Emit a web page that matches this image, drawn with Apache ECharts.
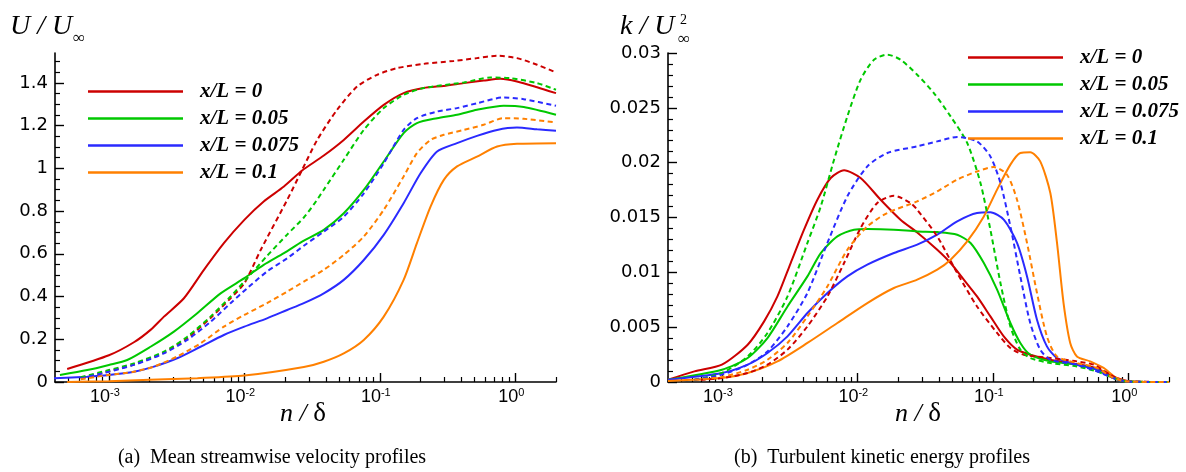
<!DOCTYPE html>
<html><head><meta charset="utf-8">
<script src="https://cdn.jsdelivr.net/npm/echarts@6/dist/echarts.min.js"></script>
<style>html,body{margin:0;padding:0;background:#fff}#c{width:1186px;height:472px}</style>
</head><body><div id="c"></div>
<script>
// ---------- labels / ticks ----------
const seriesNames = ['x/L = 0', 'x/L = 0.05', 'x/L = 0.075', 'x/L = 0.1'];
const colors = ['#cc0000', '#00c800', '#2a2aff', '#ff8000'];
const xDecadeTicks = [-3, -2, -1, 0];          // log10(n/delta) of labelled decades
const uTicks = [0, 0.2, 0.4, 0.6, 0.8, 1, 1.2, 1.4];
const kTicks = [0, 0.005, 0.01, 0.015, 0.02, 0.025, 0.03];

// ---------- (a) U/U_inf  : [n/delta, value] ----------
const U_x0 = [[4.92e-4,0.061],[1e-3,0.125],[1.53e-3,0.186],[2.03e-3,0.244],[2.55e-3,0.306],[3.58e-3,0.392],[5.03e-3,0.525],[7.06e-3,0.65],[0.01,0.759],[0.0139,0.845],[0.0196,0.915],[0.0267,0.99],[0.0386,1.06],[0.0542,1.133],[0.0762,1.219],[0.107,1.297],[0.150,1.352],[0.211,1.376],[0.297,1.386],[0.417,1.399],[0.586,1.411],[0.778,1.419],[1.03,1.407],[1.45,1.38],[2,1.352]];
const U_x0_d = [[6.2e-4,0.018],[1e-3,0.05],[1.53e-3,0.082],[2.55e-3,0.138],[3.79e-3,0.205],[5.63e-3,0.3],[7.91e-3,0.392],[0.01,0.462],[0.0132,0.618],[0.0207,0.852],[0.0267,0.993],[0.0345,1.133],[0.0484,1.274],[0.068,1.383],[0.0955,1.438],[0.134,1.469],[0.211,1.489],[0.352,1.503],[0.522,1.516],[0.735,1.527],[1.03,1.516],[1.45,1.485],[2,1.449]];
const U_x05 = [[4.35e-4,0.033],[6.92e-4,0.056],[1e-3,0.08],[1.365e-3,0.103],[2.03e-3,0.165],[3.02e-3,0.236],[4.49e-3,0.322],[6.68e-3,0.415],[0.01,0.486],[0.0139,0.548],[0.0196,0.603],[0.0267,0.657],[0.0386,0.712],[0.0542,0.79],[0.0762,0.899],[0.107,1.032],[0.150,1.165],[0.188,1.212],[0.265,1.235],[0.372,1.251],[0.522,1.274],[0.822,1.293],[1.156,1.287],[2,1.251]];
const U_x05_d = [[6.2e-4,0.022],[1e-3,0.056],[1.53e-3,0.087],[2.55e-3,0.142],[3.79e-3,0.212],[5.63e-3,0.306],[7.91e-3,0.4],[0.0105,0.486],[0.0147,0.59],[0.0207,0.69],[0.0275,0.77],[0.0325,0.83],[0.0386,0.9],[0.0542,1.04],[0.0762,1.18],[0.107,1.282],[0.150,1.344],[0.211,1.376],[0.417,1.402],[0.656,1.425],[0.923,1.422],[1.45,1.399],[2,1.368]];
const U_x075 = [[3.93e-4,0.017],[6.92e-4,0.025],[1e-3,0.033],[1.53e-3,0.048],[2.15e-3,0.072],[3.19e-3,0.111],[4.75e-3,0.165],[7.06e-3,0.22],[0.01,0.259],[0.0147,0.298],[0.0207,0.337],[0.0275,0.369],[0.0386,0.415],[0.0542,0.478],[0.0762,0.571],[0.107,0.689],[0.150,0.837],[0.2,0.977],[0.265,1.079],[0.372,1.118],[0.522,1.152],[0.735,1.18],[1.03,1.191],[1.45,1.183],[2,1.176]];
const U_x075_d = [[6.2e-4,0.017],[1e-3,0.048],[1.53e-3,0.08],[2.55e-3,0.134],[3.79e-3,0.197],[5.63e-3,0.282],[7.91e-3,0.369],[0.0105,0.439],[0.0147,0.517],[0.0207,0.579],[0.0275,0.638],[0.0386,0.704],[0.0542,0.774],[0.0762,0.883],[0.107,1.024],[0.150,1.18],[0.188,1.235],[0.265,1.266],[0.372,1.282],[0.522,1.305],[0.822,1.332],[1.156,1.324],[2,1.293]];
const U_x1 = [[4.92e-4,0.0],[1e-3,0.004],[2e-3,0.01],[4.5e-3,0.018],[0.01,0.03],[0.0275,0.07],[0.0386,0.095],[0.0542,0.134],[0.0762,0.197],[0.107,0.306],[0.150,0.478],[0.188,0.65],[0.237,0.821],[0.297,0.946],[0.372,1.009],[0.522,1.055],[0.735,1.102],[1.03,1.115],[2,1.118]];
const U_x1_d = [[6.2e-4,0.013],[1e-3,0.033],[1.53e-3,0.048],[2.15e-3,0.072],[3.19e-3,0.119],[4.75e-3,0.181],[7.06e-3,0.259],[0.01,0.314],[0.0147,0.369],[0.0207,0.423],[0.0275,0.47],[0.0386,0.525],[0.0542,0.595],[0.0762,0.681],[0.107,0.806],[0.150,0.962],[0.188,1.071],[0.237,1.133],[0.297,1.157],[0.417,1.18],[0.586,1.204],[0.822,1.235],[1.156,1.232],[2,1.215]];

// ---------- (b) k/U_inf^2 : [n/delta, value] ----------
const K_x0 = [[4e-4,0.0002],[6.27e-4,0.00097],[1e-3,0.00158],[1.55e-3,0.0034],[2.05e-3,0.00553],[2.57e-3,0.0078],[3.22e-3,0.01085],[4.04e-3,0.01389],[5.07e-3,0.01662],[6.36e-3,0.0186],[7.98e-3,0.0193],[0.01057,0.0186],[0.01485,0.01662],[0.02083,0.0148],[0.02767,0.01364],[0.0389,0.01206],[0.0488,0.01085],[0.0611,0.00933],[0.0765,0.0078],[0.096,0.00598],[0.1205,0.00416],[0.151,0.00295],[0.189,0.00249],[0.266,0.00203],[0.373,0.00173],[0.524,0.00142],[0.658,0.00097],[0.824,0.00036],[1.033,0.00005],[2,0]];
const K_x0_d = [[7e-4,0.0002],[1e-3,0.00036],[1.55e-3,0.00082],[2.17e-3,0.00158],[3.05e-3,0.00295],[4.28e-3,0.00507],[6.01e-3,0.0078],[7.98e-3,0.01085],[0.01057,0.01404],[0.01403,0.01632],[0.01862,0.01699],[0.0247,0.01632],[0.02767,0.01571],[0.0389,0.01328],[0.0546,0.00994],[0.0765,0.00689],[0.1076,0.00447],[0.1349,0.0031],[0.169,0.00249],[0.266,0.00219],[0.418,0.00188],[0.555,0.00158],[0.736,0.00067],[0.923,0.0001],[2,0]];
const K_x05 = [[4e-4,0.0002],[1e-3,0.00112],[1.55e-3,0.00219],[2.17e-3,0.00401],[3.05e-3,0.00689],[4.28e-3,0.00963],[5.37e-3,0.01176],[7.12e-3,0.01328],[9.45e-3,0.01389],[0.01185,0.01395],[0.01862,0.01389],[0.02767,0.01373],[0.0389,0.01367],[0.0546,0.01343],[0.0685,0.01268],[0.0859,0.01085],[0.1076,0.00842],[0.1349,0.00538],[0.1597,0.00356],[0.189,0.00249],[0.266,0.00188],[0.418,0.00158],[0.587,0.00112],[0.779,0.00036],[0.977,0.00005],[2,0]];
const K_x05_d = [[6.27e-4,0.0002],[1e-3,0.00082],[1.55e-3,0.00233],[2.17e-3,0.00447],[3.05e-3,0.0078],[4.28e-3,0.01268],[5.37e-3,0.01601],[6.73e-3,0.02027],[8.44e-3,0.02422],[0.01057,0.02757],[0.01327,0.02939],[0.01663,0.02985],[0.02083,0.02939],[0.02767,0.02802],[0.03673,0.02635],[0.0488,0.02422],[0.0647,0.0218],[0.0811,0.01815],[0.096,0.01389],[0.1139,0.00903],[0.1349,0.00507],[0.1597,0.00295],[0.189,0.00219],[0.266,0.00173],[0.418,0.00142],[0.587,0.00097],[0.779,0.00036],[0.977,0.00005],[2,0]];
const K_x075 = [[4e-4,0.0002],[1e-3,0.00082],[1.55e-3,0.00158],[2.17e-3,0.00264],[3.05e-3,0.00416],[4.28e-3,0.00629],[6.01e-3,0.00812],[8.44e-3,0.00963],[0.01185,0.0107],[0.01862,0.01176],[0.02767,0.01252],[0.0389,0.01343],[0.0546,0.01465],[0.0765,0.01541],[0.096,0.01547],[0.1205,0.0148],[0.151,0.01268],[0.179,0.00963],[0.212,0.00568],[0.251,0.00325],[0.298,0.00219],[0.418,0.00158],[0.587,0.00112],[0.779,0.00036],[0.977,0.00005],[2,0]];
const K_x075_d = [[6.27e-4,0.0002],[1e-3,0.00067],[1.55e-3,0.00158],[2.17e-3,0.00279],[3.05e-3,0.00507],[4.28e-3,0.00812],[6.01e-3,0.01268],[8.44e-3,0.01693],[0.01185,0.01966],[0.01663,0.02088],[0.02767,0.02149],[0.0389,0.02194],[0.0546,0.02234],[0.0765,0.02194],[0.096,0.02057],[0.1139,0.01815],[0.1349,0.01419],[0.1597,0.00963],[0.189,0.00538],[0.224,0.00295],[0.266,0.00203],[0.418,0.00158],[0.587,0.00097],[0.779,0.00036],[0.977,0.00005],[2,0]];
const K_x1 = [[4e-4,0.0001],[1e-3,0.00036],[1.55e-3,0.00082],[2.57e-3,0.00188],[4.28e-3,0.00356],[7.12e-3,0.00538],[0.01185,0.0072],[0.01862,0.00857],[0.02767,0.00933],[0.0389,0.01024],[0.0488,0.01115],[0.0647,0.01282],[0.0859,0.0151],[0.1076,0.01754],[0.1349,0.01982],[0.1597,0.02088],[0.189,0.02094],[0.224,0.02012],[0.266,0.01723],[0.298,0.01268],[0.333,0.0072],[0.373,0.00356],[0.418,0.00233],[0.524,0.00188],[0.658,0.00128],[0.824,0.00036],[1.033,0.00005],[2,0]];
const K_x1_d = [[6.27e-4,0.0002],[1e-3,0.00046],[1.55e-3,0.00112],[2.17e-3,0.00203],[3.05e-3,0.00356],[4.28e-3,0.00598],[6.01e-3,0.00872],[8.44e-3,0.01206],[0.01185,0.01419],[0.01663,0.01541],[0.02767,0.01647],[0.0389,0.01738],[0.0546,0.01845],[0.0765,0.0192],[0.1017,0.0196],[0.1274,0.0189],[0.151,0.01662],[0.179,0.01268],[0.212,0.00812],[0.251,0.00416],[0.298,0.00233],[0.418,0.00173],[0.587,0.00128],[0.779,0.00036],[0.977,0.00005],[2,0]];

const uSolid = [U_x0, U_x05, U_x075, U_x1];
const uDashed = [U_x0_d, U_x05_d, U_x075_d, U_x1_d];
const kSolid = [K_x0, K_x05, K_x075, K_x1];
const kDashed = [K_x0_d, K_x05_d, K_x075_d, K_x1_d];

// ---------- chart ----------
const chart = echarts.init(document.getElementById('c'));
const toLog = arr => arr.map(p => [Math.log10(p[0]), p[1]]);
const xMin = Math.log10(4e-4), xMax = Math.log10(2);
const minorX = [];
for (let d = -4; d <= 0; d++) for (let m = 2; m <= 9; m++) {
  const v = d + Math.log10(m);
  if (v > xMin + 1e-6 && v <= xMax + 1e-6) minorX.push(v);
}
const minorU = [];
for (let k = 1; k * 0.05 <= 1.54; k++) if (k % 4) minorU.push(+(k * 0.05).toFixed(2));
const minorK = [];
for (let k = 1; k <= 30; k++) if (k % 5) minorK.push(+(k * 0.001).toFixed(3));

const black = '#000';
const serif = '"Liberation Serif", "Times New Roman", serif';

function xAxesFor(g) {
  return [
    { type: 'value', gridIndex: g, position: 'bottom', min: xMin, max: xMax,
      axisLine: { onZero: false, lineStyle: { color: black, width: 1.6 } },
      axisTick: { customValues: xDecadeTicks, inside: true, length: 9, lineStyle: { color: black, width: 1.4 } },
      axisLabel: { customValues: xDecadeTicks, margin: 5, padding: [0, 8, 0, 0],
        formatter: v => '{b|10}{s|' + v + '}',
        rich: { b: { fontFamily: 'Liberation Sans', fontSize: 18, color: black, lineHeight: 20 },
                s: { fontFamily: 'Liberation Sans', fontSize: 11, color: black, verticalAlign: 'top', lineHeight: 12 } } },
      splitLine: { show: false } },
    { type: 'value', gridIndex: g, position: 'bottom', min: xMin, max: xMax,
      axisLine: { show: false, onZero: false },
      axisTick: { customValues: minorX, inside: true, length: 5, lineStyle: { color: black, width: 1.2 } },
      axisLabel: { show: false }, splitLine: { show: false } }
  ];
}
function yAxesFor(g, max, ticks, minor) {
  return [
    { type: 'value', gridIndex: g, position: 'left', min: 0, max: max,
      axisLine: { show: true, onZero: false, lineStyle: { color: black, width: 1.6 } },
      axisTick: { show: true, customValues: ticks, inside: true, length: 9, lineStyle: { color: black, width: 1.4 } },
      axisLabel: { customValues: ticks, margin: 7, fontFamily: 'DejaVu Sans', fontSize: 18, color: black },
      splitLine: { show: false } },
    { type: 'value', gridIndex: g, position: 'left', min: 0, max: max,
      axisLine: { show: false, onZero: false },
      axisTick: { show: true, customValues: minor, inside: true, length: 5, lineStyle: { color: black, width: 1.2 } },
      axisLabel: { show: false }, splitLine: { show: false } }
  ];
}

const series = [];
function addPanel(solid, dashed, xi, yi) {
  solid.forEach((d, i) => series.push({
    type: 'line', name: seriesNames[i], xAxisIndex: xi, yAxisIndex: yi, data: toLog(d),
    showSymbol: false, smooth: 0.25, z: 2,
    itemStyle: { color: colors[i] }, lineStyle: { color: colors[i], width: 2 } }));
  dashed.forEach((d, i) => series.push({
    type: 'line', name: seriesNames[i] + ' (dashed)', xAxisIndex: xi, yAxisIndex: yi, data: toLog(d),
    showSymbol: false, smooth: 0.25, z: 3,
    itemStyle: { color: colors[i] }, lineStyle: { color: colors[i], width: 2, type: [5, 3.5] } }));
}
addPanel(uSolid, uDashed, 0, 0);
addPanel(kSolid, kDashed, 2, 2);

const legendBase = {
  data: seriesNames, orient: 'vertical', icon: 'rect', itemWidth: 95, itemHeight: 2.5,
  itemGap: 6, padding: 0, selectedMode: false,
  textStyle: { fontFamily: serif, fontStyle: 'italic', fontWeight: 'bold', fontSize: 21, color: black,
               lineHeight: 20, padding: [0, 0, 0, 12] }
};

const txt = (x, y, text, font, extra) => ({ type: 'text', x, y, silent: true,
  style: Object.assign({ text, font, fill: black, verticalAlign: 'middle' }, extra || {}) });
const xName = (x, y) => ({ type: 'text', x, y, silent: true,
  style: { text: '{i|n /} {d|δ}', fill: black, align: 'center', verticalAlign: 'middle',
    font: '26px ' + serif,
    rich: { i: { fontFamily: serif, fontStyle: 'italic', fontSize: 26, fill: black },
            d: { fontFamily: serif, fontSize: 27, fill: black } } } });

chart.setOption({
  animation: false,
  backgroundColor: '#fff',
  grid: [
    { left: 55, right: 630, top: 53, bottom: 90 },
    { left: 668, right: 17, top: 53, bottom: 90 }
  ],
  xAxis: [...xAxesFor(0), ...xAxesFor(1)],
  yAxis: [...yAxesFor(0, 1.54, uTicks, minorU), ...yAxesFor(1, 0.03, kTicks, minorK)],
  legend: [
    Object.assign({}, legendBase, { left: 88, top: 81 }),
    Object.assign({}, legendBase, { left: 968, top: 47 })
  ],
  series,
  graphic: [
    txt(10, 27, 'U / U', 'italic 28px ' + serif),
    txt(73, 39, '∞', '17px ' + serif),
    txt(620, 27, 'k / U', 'italic 28px ' + serif),
    txt(680, 20, '2', '14px ' + serif),
    txt(678, 40, '∞', '17px ' + serif),
    xName(303, 414),
    xName(918, 414),
    txt(272, 458, '(a)  Mean streamwise velocity profiles', '20px ' + serif, { align: 'center' }),
    txt(882, 458, '(b)  Turbulent kinetic energy profiles', '20px ' + serif, { align: 'center' })
  ]
});
</script>
</body></html>
